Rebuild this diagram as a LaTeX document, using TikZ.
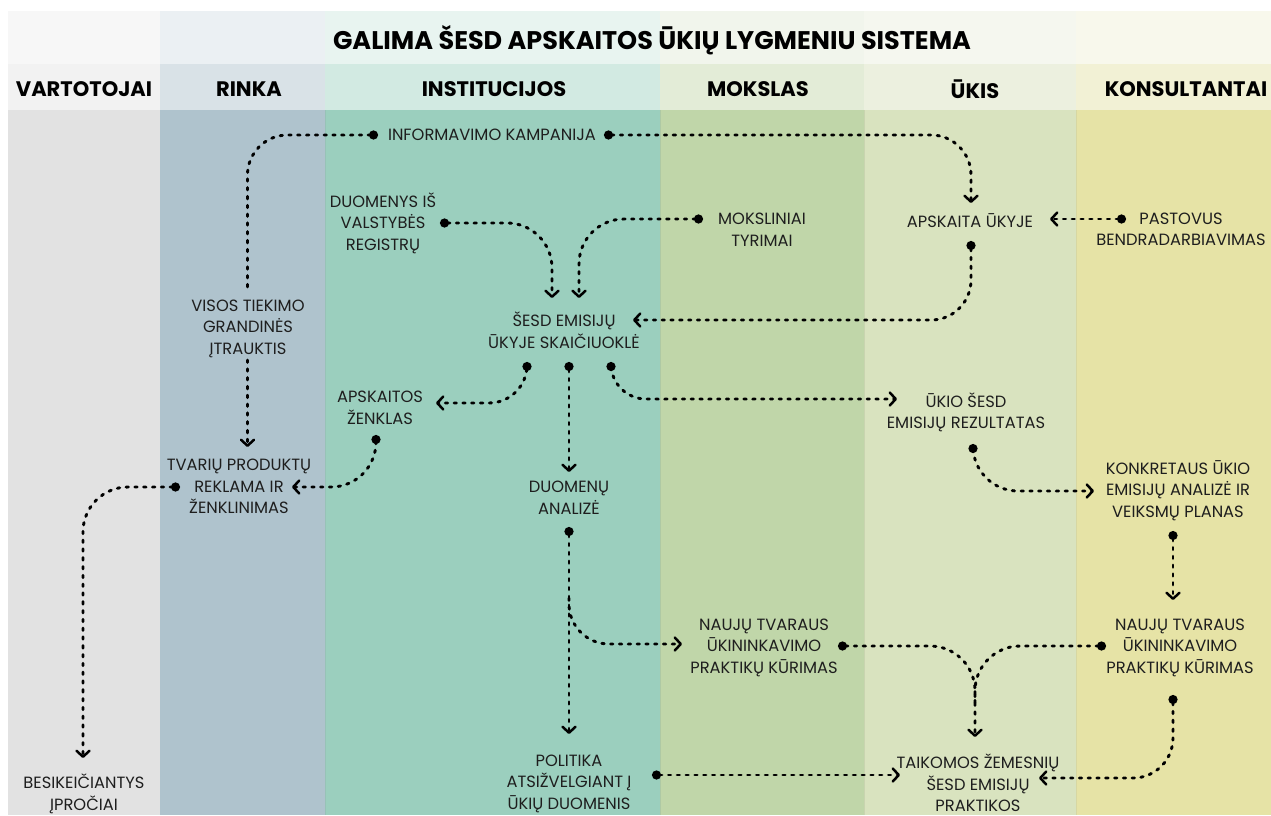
\documentclass[tikz,border=0pt]{standalone}
\usepackage{fontspec}
\setmainfont{Poppins}
\usetikzlibrary{arrows.meta}
\definecolor{gB}{HTML}{E2E2E2}\definecolor{gH}{HTML}{F2F2F2}\definecolor{gT}{HTML}{F7F7F7}
\definecolor{rB}{HTML}{AFC3CD}\definecolor{rH}{HTML}{D9E2E7}\definecolor{rT}{HTML}{EBF0F3}
\definecolor{iB}{HTML}{9BCFBE}\definecolor{iH}{HTML}{D2EAE2}\definecolor{iT}{HTML}{E8F4F0}
\definecolor{mB}{HTML}{C0D6A9}\definecolor{mH}{HTML}{E3ECD7}\definecolor{mT}{HTML}{F1F5EC}
\definecolor{uB}{HTML}{D9E3BF}\definecolor{uH}{HTML}{ECF0DF}\definecolor{uT}{HTML}{F5F7EF}
\definecolor{kB}{HTML}{E6E3A6}\definecolor{kH}{HTML}{F2F1D5}\definecolor{kT}{HTML}{F8F8EC}
\definecolor{ink}{HTML}{1E1E1E}
\begin{document}
\begin{tikzpicture}[x=1pt,y=-1pt,
  conn/.style={black,line width=2.9pt,line cap=round,dash pattern=on 2.4pt off 6.4pt,rounded corners=#1},
  conn/.default=40pt,
  da/.style={conn=#1,arrows={Circle[length=9pt,width=9pt]-Straight Barb[length=6pt,width=13pt,round,line width=2.5pt]}},
  da/.default=40pt,
  dn/.style={conn=#1,arrows={Circle[length=9pt,width=9pt]-}},
  dn/.default=40pt,
  na/.style={conn=#1,arrows={-Straight Barb[length=6pt,width=13pt,round,line width=2.5pt]}},
  na/.default=40pt,
  txt/.style={font=\fontsize{16.3}{21.5}\selectfont,align=center,inner sep=0pt,text=ink},
  hdr/.style={font=\fontsize{21}{22}\selectfont\bfseries,inner sep=0pt,text=black}]
\useasboundingbox (0,0) rectangle (1271,815);
\fill[white] (0,0) rectangle (1271,815);
% columns
\foreach \xa/\xb/\cb/\ch/\ct in {8/160/gB/gH/gT,160/325/rB/rH/rT,325/660/iB/iH/iT,660/864/mB/mH/mT,864/1076/uB/uH/uT,1076/1271/kB/kH/kT}{
  \fill[\ct] (\xa,11) rectangle (\xb,64);
  \fill[\ch] (\xa,64) rectangle (\xb,110);
  \fill[\cb] (\xa,110) rectangle (\xb,815);
}
\draw[rB!80!black,line width=0.6pt,opacity=0.25] (325,110) -- (325,815);
\draw[iB!80!black,line width=0.6pt,opacity=0.25] (660,110) -- (660,815);
\draw[mB!80!black,line width=0.6pt,opacity=0.25] (864,110) -- (864,815);
\draw[uB!80!black,line width=0.6pt,opacity=0.25] (1076,110) -- (1076,815);
% headings
\node[hdr,font=\fontsize{25.5}{27}\selectfont\bfseries] (title) at (652,40) {GALIMA ŠESD APSKAITOS ŪKIŲ LYGMENIU SISTEMA};
\node[hdr] (h1) at (84,89) {VARTOTOJAI};
\node[hdr] (h2) at (249,89) {RINKA};
\node[hdr] (h3) at (494,89) {INSTITUCIJOS};
\node[hdr] (h4) at (758,89) {MOKSLAS};
\node[hdr] (h5) at (975,89) {ŪKIS};
\node[hdr] (h6) at (1186,89) {KONSULTANTAI};
% text nodes
\node[txt] (info) at (492,135) {INFORMAVIMO KAMPANIJA};
\node[txt] (duom) at (383,223) {DUOMENYS IŠ\\VALSTYBĖS\\REGISTRŲ};
\node[txt] (moks) at (762,229.5) {MOKSLINIAI\\TYRIMAI};
\node[txt] (apsk) at (970,221) {APSKAITA ŪKYJE};
\node[txt] (past) at (1181,229.5) {PASTOVUS\\BENDRADARBIAVIMAS};
\node[txt] (sk) at (564,330) {ŠESD EMISIJŲ\\ŪKYJE SKAIČIUOKLĖ};
\node[txt] (visos) at (248,328.5) {VISOS TIEKIMO\\GRANDINĖS\\ĮTRAUKTIS};
\node[txt] (zenk) at (380,408) {APSKAITOS\\ŽENKLAS};
\node[txt] (rez) at (966,412.5) {ŪKIO ŠESD\\EMISIJŲ REZULTATAS};
\node[txt] (tvar) at (239,486.5) {TVARIŲ PRODUKTŲ\\REKLAMA IR\\ŽENKLINIMAS};
\node[txt] (dan) at (569,497.5) {DUOMENŲ\\ANALIZĖ};
\node[txt] (konk) at (1178,490.5) {KONKRETAUS ŪKIO\\EMISIJŲ ANALIZĖ IR\\VEIKSMŲ PLANAS};
\node[txt] (nauj1) at (764,647.5) {NAUJŲ TVARAUS\\ŪKININKAVIMO\\PRAKTIKŲ KŪRIMAS};
\node[txt] (nauj2) at (1180,647.5) {NAUJŲ TVARAUS\\ŪKININKAVIMO\\PRAKTIKŲ KŪRIMAS};
\node[txt] (besk) at (84,794) {BESIKEIČIANTYS\\ĮPROČIAI};
\node[txt] (pol) at (569,783.5) {POLITIKA\\ATSIŽVELGIANT Į\\ŪKIŲ DUOMENIS};
\node[txt] (taik) at (978,783) {TAIKOMOS ŽEMESNIŲ\\ŠESD EMISIJŲ\\PRAKTIKOS};
% connector end points
\coordinate (infoL) at (378,135);   \coordinate (visosT) at (247.5,288);
\coordinate (infoR) at (604,135);   \coordinate (apskT) at (971,203);
\coordinate (duomR) at (440,223);   \coordinate (skT1) at (552,298);
\coordinate (moksL) at (703,219);   \coordinate (skT2) at (579,298);
\coordinate (pastL) at (1126,219);  \coordinate (apskR) at (1050,219);
\coordinate (apskB) at (971,241);   \coordinate (skR) at (633,320);
\coordinate (skB1) at (527,362);    \coordinate (zenkR) at (436,403);
\coordinate (skB2) at (569,362);    \coordinate (danT) at (569,472);
\coordinate (skB3) at (611,362);    \coordinate (rezL) at (897,399);
\coordinate (visosB) at (247.5,360);  \coordinate (tvarT) at (247.5,447);
\coordinate (zenkB) at (376,435);   \coordinate (tvarR) at (292,487);
\coordinate (tvarL) at (180,487);   \coordinate (beskT) at (83,758);
\coordinate (rezB) at (973,444);    \coordinate (konkL) at (1094,491);
\coordinate (konkB) at (1173,531);  \coordinate (nauj2T) at (1173,600);
\coordinate (danB) at (569,527);    \coordinate (polT) at (569,734);
\coordinate (br) at (569,598);      \coordinate (nauj1L) at (682,644);
\coordinate (nauj1R) at (838,646);  \coordinate (taikT) at (975,737);
\coordinate (nauj2L) at (1106,646); \coordinate (merge) at (975,705);
\coordinate (nauj2B) at (1173,695); \coordinate (taikR) at (1039,778);
\coordinate (polR) at (652,775);    \coordinate (taikL) at (900,775);
% connectors
\draw[dn] (infoL) -| (visosT);
\draw[da] (infoR) -| (apskT);
\draw[da=45pt] (duomR) -| (skT1);
\draw[da=45pt] (moksL) -| (skT2);
\draw[da] (pastL) -- (apskR);
\draw[da] (apskB) |- (skR);
\draw[da=38pt] (skB1) |- (zenkR);
\draw[da] (skB2) -- (danT);
\draw[da=35pt] (skB3) |- (rezL);
\draw[na] (visosB) -- (tvarT);
\draw[da=45pt] (zenkB) |- (tvarR);
\draw[da=45pt] (tvarL) -| (beskT);
\draw[da=45pt] (rezB) |- (konkL);
\draw[da] (konkB) -- (nauj2T);
\draw[da] (danB) -- (polT);
\draw[na=40pt] (br) |- (nauj1L);
\draw[da=45pt] (nauj1R) -| (taikT);
\draw[dn=45pt] (nauj2L) -| (merge);
\draw[da=40pt] (nauj2B) |- (taikR);
\draw[da] (polR) -- (taikL);
\end{tikzpicture}
\end{document}
